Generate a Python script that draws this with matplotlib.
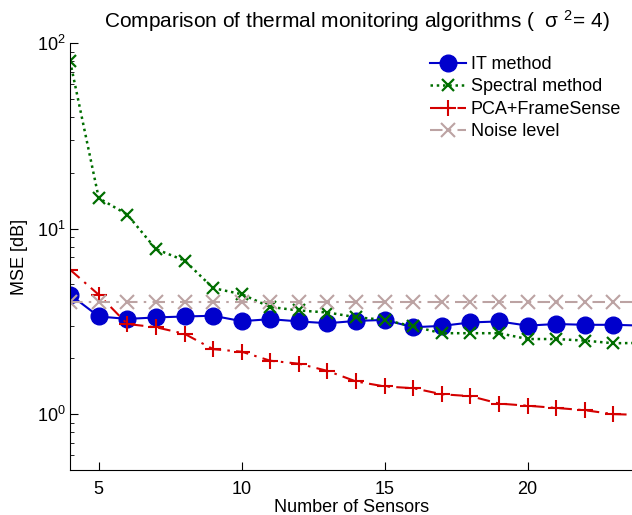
import matplotlib.pyplot as plt
import numpy as np

plt.rcParams['font.family'] = ['Liberation Sans', 'DejaVu Sans']
plt.rcParams['mathtext.default'] = 'regular'

sensors = np.arange(4, 25)
it_method = [4.40, 3.36, 3.26, 3.32, 3.36, 3.39, 3.17, 3.25, 3.16, 3.09, 3.18,
             3.22, 2.94, 2.99, 3.12, 3.16, 3.00, 3.06, 3.03, 3.03, 3.00]
spectral = [79.6, 14.6, 11.9, 7.75, 6.73, 4.78, 4.43, 3.78, 3.62, 3.53, 3.33,
            3.22, 2.97, 2.73, 2.73, 2.73, 2.54, 2.54, 2.49, 2.41, 2.42]
pca_fs = [6.0, 4.40, 3.06, 2.94, 2.71, 2.24, 2.17, 1.94, 1.87, 1.71, 1.50,
          1.41, 1.38, 1.28, 1.25, 1.14, 1.11, 1.08, 1.05, 1.00, 0.99]
noise = [4.0] * len(sensors)

fig = plt.figure(figsize=(6.32, 5.15), dpi=100)
ax = fig.add_axes([0.111, 0.0874, 0.889, 0.829])

ax.plot(sensors, it_method, '-o', color='#0000CC', lw=1.5, ms=12, label='IT method')
ax.plot(sensors, spectral, color='#006E00', ls=(0, (1, 1.5)), marker='x', lw=1.8, ms=9, mew=1.6,
        label='Spectral method')
ax.plot(sensors, pca_fs, color='#D40000', ls=(0, (6, 3, 1.2, 3)), marker='+', lw=1.5, ms=12, mew=1.5,
        label='PCA+FrameSense')
ax.plot(sensors, noise, color='#BCA3A3', ls=(0, (6, 3, 1.2, 3)), marker='x', lw=1.5, ms=10, mew=1.5,
        label='Noise level')

ax.set_yscale('log')
ax.set_ylim(0.5, 100)
ax.set_xlim(4, 23.65)
ax.set_xticks([5, 10, 15, 20])

ax.spines['top'].set_visible(False)
ax.spines['right'].set_visible(False)
ax.tick_params(which='both', direction='in', labelsize=13, top=False, right=False)
ax.tick_params(axis='x', pad=8)
ax.tick_params(which='major', length=6)
ax.tick_params(which='minor', length=3)

ax.set_xlabel('Number of Sensors', fontsize=13, labelpad=1)
ax.set_ylabel('MSE [dB]', fontsize=13, labelpad=6)
ax.set_title('Comparison of thermal monitoring algorithms (  σ $^2$= 4)', fontsize=15, x=0.51, pad=11)

ax.legend(loc='upper right', frameon=False, fontsize=13, handlelength=2.0,
          handletextpad=0.25, labelspacing=0.3, borderaxespad=0.2, bbox_to_anchor=(1.0, 0.995))

fig.savefig('out.png', dpi=100)
